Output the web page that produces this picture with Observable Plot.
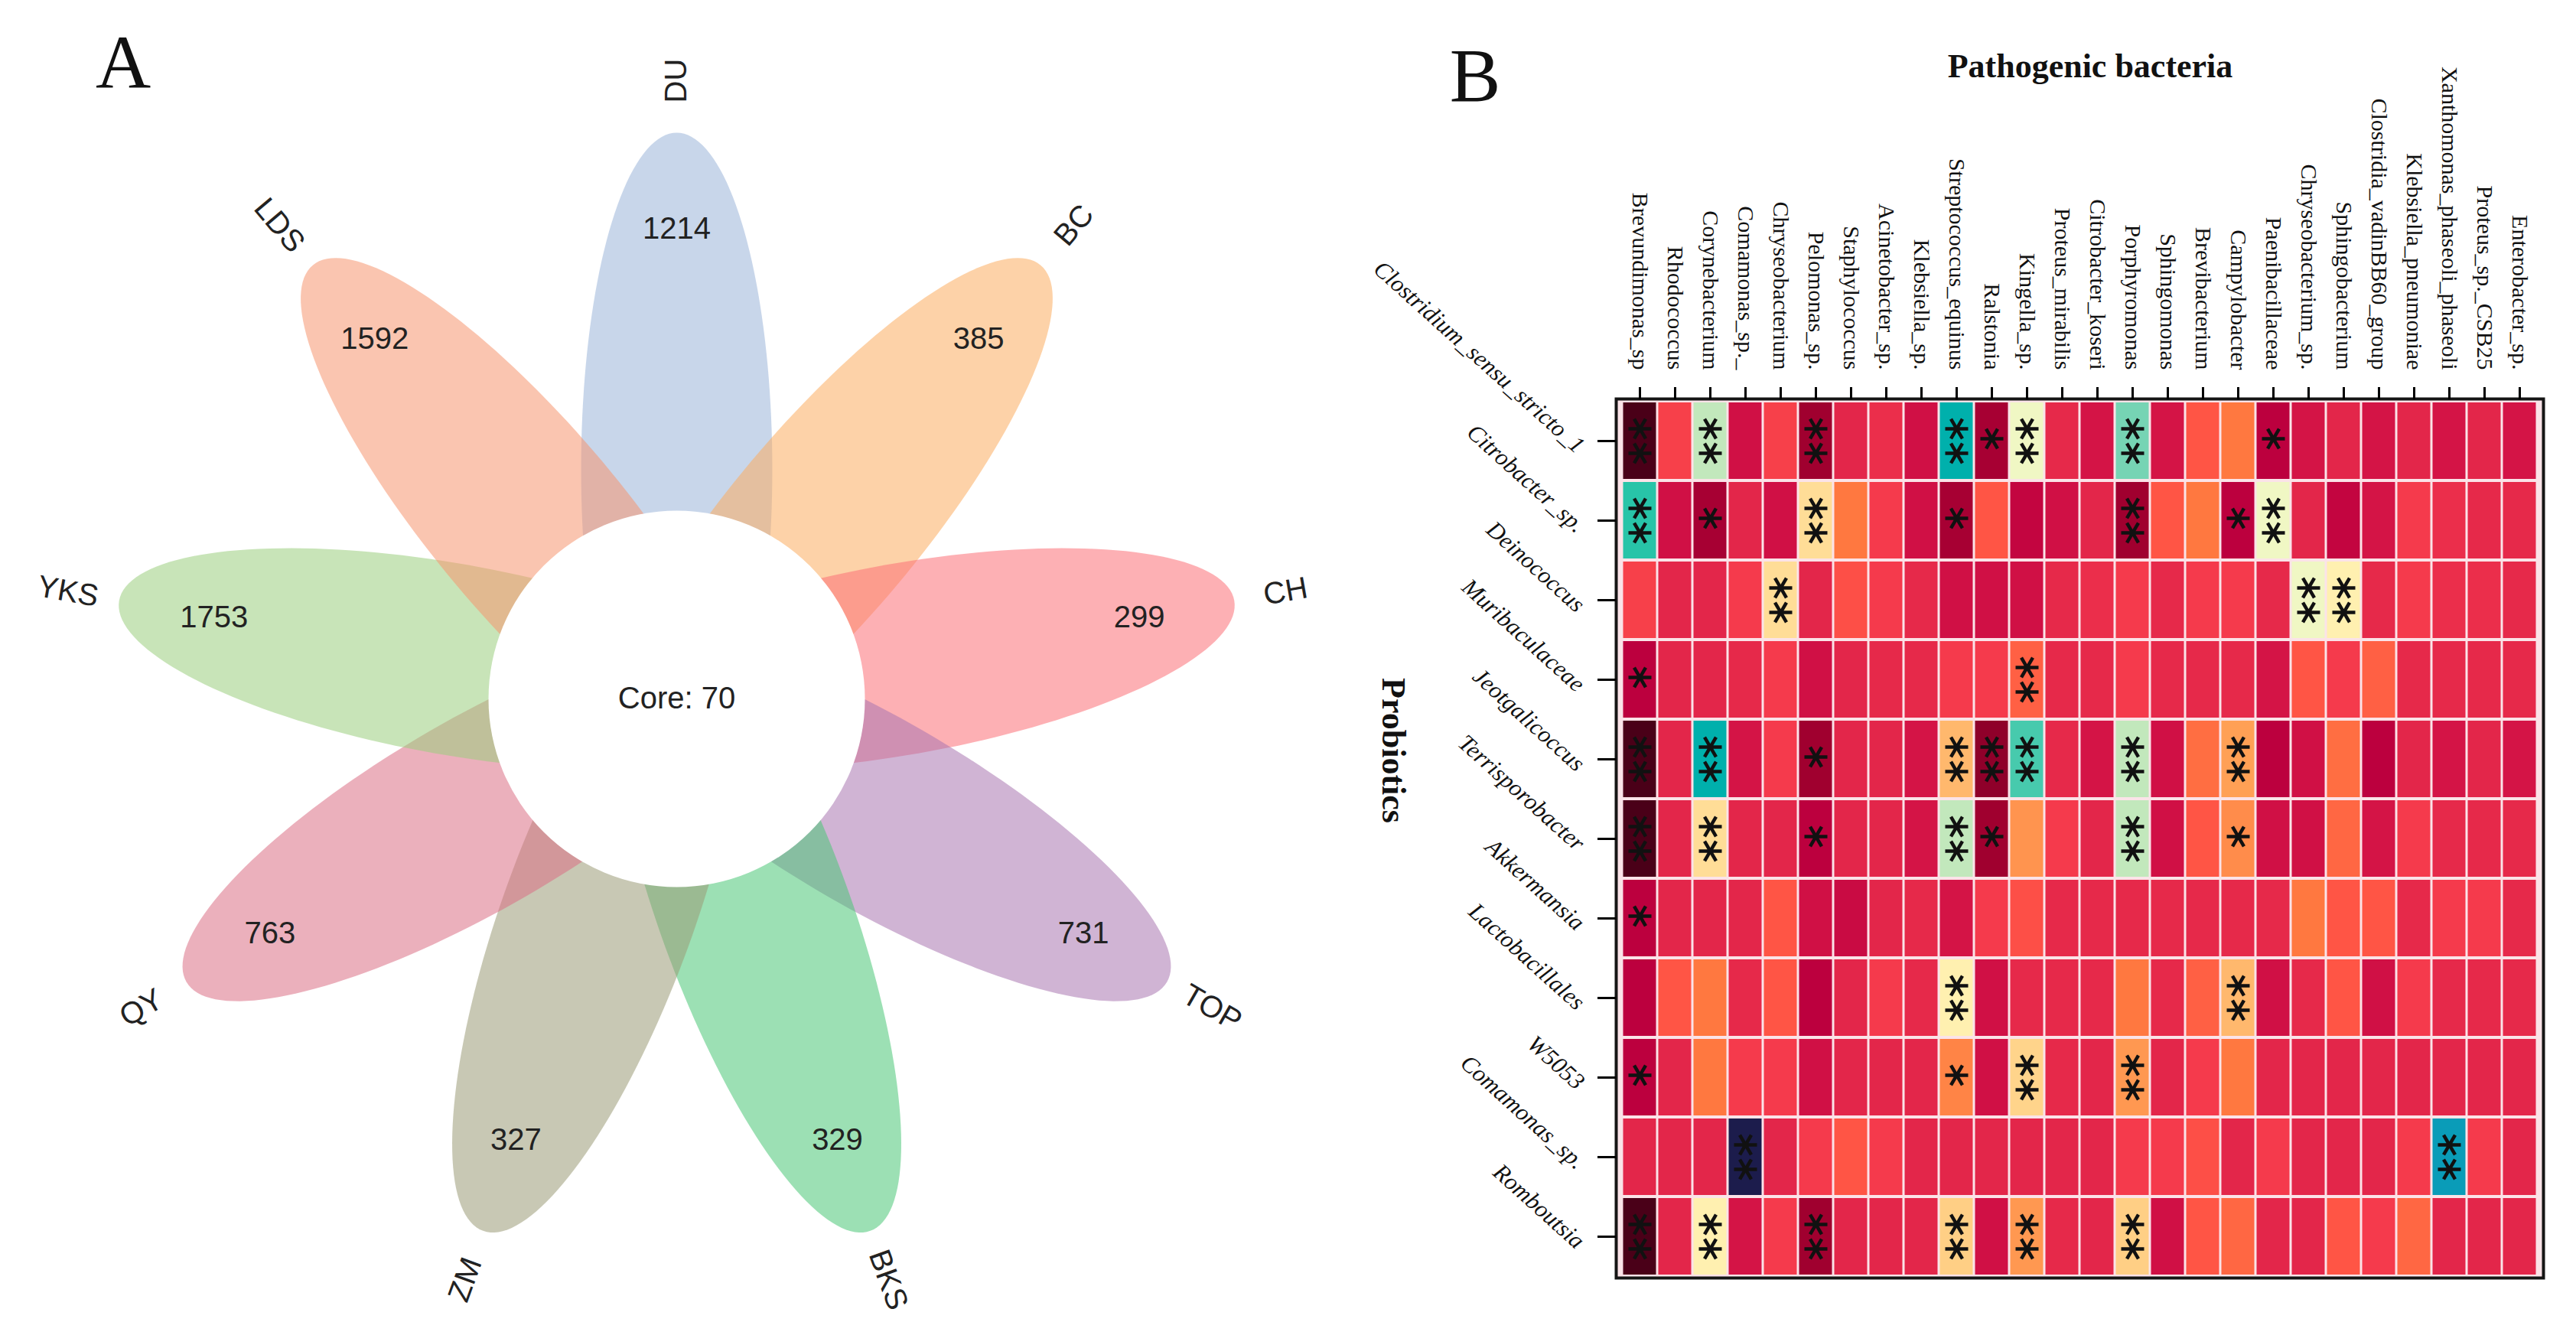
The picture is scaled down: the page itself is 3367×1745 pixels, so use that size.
<!DOCTYPE html>
<html>
<head>
<meta charset="utf-8">
<script src="https://cdn.jsdelivr.net/npm/d3@7"></script>
<script src="https://cdn.jsdelivr.net/npm/@observablehq/plot@0.6"></script>
<style>
  body { margin: 0; background: #fff; }
  #fig { position: relative; width: 3367px; height: 1745px; overflow: hidden; background: #fff; }
  .ann { position: absolute; line-height: 1; white-space: nowrap; color: #111; }
</style>
</head>
<body>
<div id="fig">
  <div id="panelA" style="position:absolute;left:0;top:0"></div>
  <div id="panelB" style="position:absolute;left:1760px;top:0"></div>
  <div class="ann" style="left:161px;top:24px;transform:translateX(-50%);font:100px 'Liberation Serif'">A</div>
  <div class="ann" style="left:1928px;top:41px;transform:translateX(-50%);font:100px 'Liberation Serif'">B</div>
  <div class="ann" style="left:2732px;top:61px;transform:translateX(-50%);font:bold 44px 'Liberation Serif'">Pathogenic bacteria</div>
  <div class="ann" style="left:1821px;top:981px;transform:translate(-50%,-50%) rotate(90deg);font:bold 44px 'Liberation Serif'">Probiotics</div>
</div>
<script>
// ---------- Panel A data (flower Venn) ----------
const groups = ["DU", "BC", "CH", "TOP", "BKS", "ZM", "QY", "YKS", "LDS"];
const uniqueCounts = [1214, 385, 299, 731, 329, 327, 763, 1753, 1592];
const coreCount = 70;
const petalColors = ["#9bb4d9", "#fbad61", "#fb6f77", "#aa77b1", "#4bc777", "#9b9b77", "#db6f85", "#9bce7e", "#f6966f"];

// ---------- Panel B data (correlation heatmap) ----------
const pathogens = ["Brevundimonas_sp", "Rhodococcus", "Corynebacterium", "Comamonas_sp._", "Chryseobacterium",
  "Pelomonas_sp.", "Staphylococcus", "Acinetobacter_sp.", "Klebsiella_sp.", "Streptococcus_equinus", "Ralstonia",
  "Kingella_sp.", "Proteus_mirabilis", "Citrobacter_koseri", "Porphyromonas", "Sphingomonas", "Brevibacterium",
  "Campylobacter", "Paenibacillaceae", "Chryseobacterium_sp.", "Sphingobacterium", "Clostridia_vadinBB60_group",
  "Klebsiella_pneumoniae", "Xanthomonas_phaseoli_phaseoli", "Proteus_sp._CSB25", "Enterobacter_sp."];
const probiotics = ["Clostridium_sensu_stricto_1", "Citrobacter_sp.", "Deinococcus", "Muribaculaceae",
  "Jeotgalicoccus", "Terrisporobacter", "Akkermansia", "Lactobacillales", "W5053", "Comamonas_sp.", "Romboutsia"];
// correlation estimates, one row per probiotic (columns follow pathogens)
const corrValues = [
  [-0.85, 0.15, 0.74, -0.25, 0.15, -0.6, 0.0, 0.05, -0.25, 0.9, -0.55, 0.68, 0.02, -0.2, 0.8, -0.2, 0.25, 0.35, -0.4, -0.2, 0.0, -0.2, 0.0, -0.2, 0.0, -0.2],
  [0.85, -0.25, -0.55, 0.0, -0.25, 0.58, 0.35, 0.12, -0.25, -0.55, 0.25, -0.35, -0.25, 0.0, -0.6, 0.25, 0.35, -0.4, 0.68, 0.0, -0.35, -0.2, 0.12, 0.05, 0.02, 0.02],
  [0.15, 0.0, 0.0, 0.12, 0.58, 0.0, 0.22, 0.12, 0.02, -0.25, -0.25, -0.25, 0.02, 0.05, 0.12, 0.02, 0.12, 0.12, 0.02, 0.68, 0.62, 0.02, 0.12, 0.05, 0.05, 0.02],
  [-0.4, 0.0, 0.0, 0.02, 0.12, -0.25, 0.0, 0.02, 0.02, 0.12, 0.12, 0.28, 0.02, 0.02, 0.12, 0.02, 0.02, 0.02, -0.2, 0.25, 0.12, 0.28, 0.02, 0.02, 0.02, 0.02],
  [-0.85, 0.0, 0.9, -0.2, 0.12, -0.6, 0.0, 0.0, -0.2, 0.5, -0.65, 0.83, 0.02, -0.2, 0.74, -0.25, 0.32, 0.45, -0.4, -0.25, 0.32, -0.4, 0.0, -0.2, 0.0, -0.2],
  [-0.85, 0.0, 0.58, 0.0, 0.0, -0.4, 0.0, 0.0, -0.2, 0.74, -0.6, 0.42, 0.12, 0.0, 0.74, -0.25, 0.25, 0.4, -0.25, -0.25, 0.3, -0.2, 0.12, 0.02, 0.02, 0.02],
  [-0.4, 0.0, 0.0, 0.0, 0.25, -0.25, -0.3, 0.0, 0.02, -0.2, 0.12, 0.22, 0.02, 0.02, 0.02, 0.02, 0.02, 0.02, 0.02, 0.35, 0.25, 0.25, 0.02, 0.12, 0.12, 0.02],
  [-0.4, 0.25, 0.35, 0.02, 0.25, -0.4, 0.0, 0.12, 0.02, 0.62, -0.25, 0.02, 0.02, 0.02, 0.35, 0.02, 0.28, 0.5, -0.25, 0.02, 0.25, -0.25, 0.12, 0.02, 0.02, 0.02],
  [-0.4, 0.0, 0.35, 0.12, 0.12, -0.25, 0.0, 0.0, 0.0, 0.38, -0.25, 0.56, 0.02, 0.0, 0.43, 0.0, 0.12, 0.35, 0.0, 0.0, 0.0, 0.0, 0.0, 0.0, 0.0, 0.0],
  [0.0, 0.0, 0.0, 1.0, 0.0, 0.12, 0.25, 0.12, 0.0, 0.0, 0.0, 0.0, 0.0, 0.0, 0.12, 0.12, 0.22, 0.0, 0.12, 0.0, 0.0, 0.0, 0.12, 0.95, 0.12, 0.0],
  [-0.85, 0.0, 0.62, -0.2, 0.12, -0.6, 0.0, 0.0, 0.0, 0.55, -0.25, 0.43, 0.02, 0.0, 0.55, -0.25, 0.25, 0.3, 0.0, 0.0, 0.25, 0.12, 0.3, 0.0, 0.0, 0.0]
];
// significance level: 0 none, 1 = *, 2 = **
const sigLevels = [
  [2,0,2,0,0,2,0,0,0,2,1,2,0,0,2,0,0,0,1,0,0,0,0,0,0,0],
  [2,0,1,0,0,2,0,0,0,1,0,0,0,0,2,0,0,1,2,0,0,0,0,0,0,0],
  [0,0,0,0,2,0,0,0,0,0,0,0,0,0,0,0,0,0,0,2,2,0,0,0,0,0],
  [1,0,0,0,0,0,0,0,0,0,0,2,0,0,0,0,0,0,0,0,0,0,0,0,0,0],
  [2,0,2,0,0,1,0,0,0,2,2,2,0,0,2,0,0,2,0,0,0,0,0,0,0,0],
  [2,0,2,0,0,1,0,0,0,2,1,0,0,0,2,0,0,1,0,0,0,0,0,0,0,0],
  [1,0,0,0,0,0,0,0,0,0,0,0,0,0,0,0,0,0,0,0,0,0,0,0,0,0],
  [0,0,0,0,0,0,0,0,0,2,0,0,0,0,0,0,0,2,0,0,0,0,0,0,0,0],
  [1,0,0,0,0,0,0,0,0,1,0,2,0,0,2,0,0,0,0,0,0,0,0,0,0,0],
  [0,0,0,2,0,0,0,0,0,0,0,0,0,0,0,0,0,0,0,0,0,0,0,2,0,0],
  [2,0,2,0,0,2,0,0,0,2,0,2,0,0,2,0,0,0,0,0,0,0,0,0,0,0]
];
const colorStops = [-1, -0.85, -0.6, -0.4, -0.25, 0, 0.12, 0.25, 0.35, 0.45, 0.55, 0.62, 0.68, 0.74, 0.8, 0.85, 0.9, 0.95, 1];
const colorRange = ["#2a0010", "#4a0018", "#a0002f", "#bc003e", "#d01045", "#e3264a", "#f53a4c", "#ff5545", "#ff7840",
  "#ffa055", "#ffcf85", "#fff0b0", "#f0f7c4", "#c2e8bc", "#76d4b4", "#28c4a8", "#00b0ac", "#0a9cb8", "#1c1c4c"];

// ================= Panel A =================
const AW = 1800, AH = 1745;
const C0 = {x: 884, y: 913};       // flower centre
const petalOffset = 300, petalA = 440, petalRatio = 0.284;
const coreR = 246, numR = 614, labR = 808;

const petals = groups.map((g, i) => ({name: g, count: uniqueCounts[i], angle: 90 - 40 * i}));
const rad = (deg) => deg * Math.PI / 180;
const px = (r, ang) => C0.x + r * Math.cos(rad(ang));
const py = (r, ang) => C0.y - r * Math.sin(rad(ang));
const labelRot = (ang) => {
  let a = ((ang % 360) + 360) % 360;
  if (a > 180) a -= 360;
  return (a >= -90 && a <= 90) ? -a : 180 - a;
};
function ellipseSymbol(angleDeg, ratio) {
  const t = rad(angleDeg);
  return {
    draw(ctx, size) {
      const a = Math.sqrt(size / Math.PI), b = a * ratio, n = 160;
      for (let k = 0; k <= n; k++) {
        const u = 2 * Math.PI * k / n;
        const ex = a * Math.cos(u), ey = b * Math.sin(u);
        const x = ex * Math.cos(t) - ey * Math.sin(t);
        const y = -(ex * Math.sin(t) + ey * Math.cos(t));
        if (k === 0) ctx.moveTo(x, y); else ctx.lineTo(x, y);
      }
      ctx.closePath();
    }
  };
}

const petalMarks = petals.map((p) => Plot.dot([p], {
  x: (d) => px(petalOffset, d.angle),
  y: (d) => py(petalOffset, d.angle),
  r: petalA,
  symbol: ellipseSymbol(p.angle, petalRatio),
  fill: "name",
  fillOpacity: 0.55,
  stroke: "none"
}));

const chartA = Plot.plot({
  width: AW, height: AH,
  margin: 0,
  x: {domain: [0, AW], range: [0, AW], axis: null},
  y: {domain: [0, AH], range: [0, AH], axis: null},
  color: {domain: groups, range: petalColors},
  style: {background: "transparent", overflow: "visible"},
  marks: [
    ...petalMarks,
    Plot.dot([coreCount], {x: () => C0.x, y: () => C0.y, r: coreR, fill: "white", stroke: "none"}),
    Plot.text([coreCount], {x: () => C0.x, y: () => C0.y, text: (d) => `Core: ${d}`,
      fontSize: 40, fontFamily: "Liberation Sans", fill: "#222"}),
    Plot.text(petals, {x: (d) => px(numR, d.angle), y: (d) => py(numR, d.angle), text: (d) => String(d.count),
      fontSize: 40, fontFamily: "Liberation Sans", fill: "#222"}),
    Plot.text(petals, {x: (d) => px(labR, d.angle), y: (d) => py(labR, d.angle), text: "name",
      rotate: (d) => labelRot(d.angle), fontSize: 40, fontFamily: "Liberation Sans", fill: "#222"})
  ]
});
document.getElementById("panelA").appendChild(chartA);

// ================= Panel B =================
const cells = [];
probiotics.forEach((row, i) => pathogens.forEach((col, j) => {
  cells.push({row, col, v: corrValues[i][j], s: sigLevels[i][j]});
}));

const asteriskSymbol = {
  draw(ctx, size) {
    const r = Math.sqrt(size / Math.PI);
    const c = r * 0.5, s = r * 0.866;
    ctx.moveTo(-r, 0); ctx.lineTo(r, 0);
    ctx.moveTo(-c, -s); ctx.lineTo(c, s);
    ctx.moveTo(-c, s); ctx.lineTo(c, -s);
  }
};
const starOpts = {x: "col", y: "row", r: 15, symbol: asteriskSymbol, fill: "none", stroke: "#111", strokeWidth: 4.5, strokeLinecap: "butt"};

const chartB = Plot.plot({
  width: 1600, height: 1745,
  marginLeft: 352, marginRight: 36, marginTop: 521, marginBottom: 75,
  x: {type: "band", domain: pathogens, padding: 0, axis: null, label: null},
  y: {type: "band", domain: probiotics, padding: 0, axis: null, label: null},
  color: {type: "linear", domain: colorStops, range: colorRange, clamp: true},
  style: {background: "transparent", overflow: "visible"},
  marks: [
    Plot.frame({fill: "#fbe3e8", stroke: "none"}),
    Plot.cell(cells, {x: "col", y: "row", fill: "v", insetLeft: 1.5, insetRight: 1.5, insetTop: 2, insetBottom: 2}),
    Plot.dot(cells.filter((d) => d.s === 2), {...starOpts, dy: -16}),
    Plot.dot(cells.filter((d) => d.s === 2), {...starOpts, dy: 16}),
    Plot.dot(cells.filter((d) => d.s === 1), {...starOpts, dy: -3}),
    Plot.frame({stroke: "#151515", strokeWidth: 4}),
    Plot.axisX({anchor: "top", tickSize: 16, strokeWidth: 3, tickFormat: () => "", label: null}),
    Plot.axisY({anchor: "left", tickSize: 24, strokeWidth: 3, tickFormat: () => "", label: null}),
    Plot.text(pathogens, {x: (d) => d, frameAnchor: "top", dy: -38, rotate: 90, textAnchor: "end",
      lineAnchor: "middle", fontSize: 30, fontFamily: "Liberation Serif", fill: "#111"}),
    Plot.text(probiotics, {y: (d) => d, frameAnchor: "left", dx: -46, dy: 10, rotate: 42, textAnchor: "end",
      lineAnchor: "middle", fontSize: 31, fontFamily: "Liberation Serif", fontStyle: "italic", fill: "#111"})
  ]
});
document.getElementById("panelB").appendChild(chartB);
</script>
</body>
</html>
